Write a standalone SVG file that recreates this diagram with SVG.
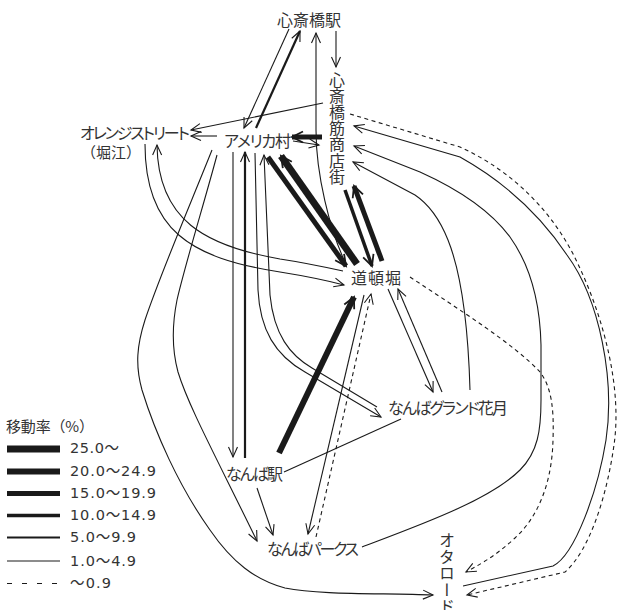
<svg xmlns="http://www.w3.org/2000/svg" width="617" height="610" viewBox="0 0 617 610">
  <style>
    .t{font-family:"Noto Sans CJK JP","Noto Sans CJK SC",sans-serif;font-size:16px;fill:#333;}
    .k{font-feature-settings:"palt" 1;}
    .v{writing-mode:vertical-rl;text-orientation:mixed;}
    .n{font-family:"DejaVu Sans","Noto Sans CJK JP",sans-serif;font-size:14.5px;fill:#333;}
    .c{fill:none;stroke:#1a1a1a;stroke-width:1.1;}
    .w5{stroke-width:2.2;}
    .w10{stroke-width:3.5;}
    .w15{stroke-width:5;}
    .w20{stroke-width:6;}
    .w25{stroke-width:7;}
    .d{stroke-dasharray:4 3.5;}
    .a{marker-end:url(#ah);}
    .b{marker-end:url(#ahb);}
  </style>
  <defs>
    <marker id="ah" viewBox="-12 -6 13 12" refX="0" refY="0" markerWidth="13" markerHeight="12" markerUnits="userSpaceOnUse" orient="auto" overflow="visible">
      <path d="M-10,-4.5 L0,0 L-10,4.5" fill="none" stroke="#1a1a1a" stroke-width="1.1"/>
    </marker>
    <marker id="ahb" viewBox="-13 -7 14 14" refX="0" refY="0" markerWidth="14" markerHeight="14" markerUnits="userSpaceOnUse" orient="auto" overflow="visible">
      <path d="M-11,-5.5 L0,0 L-11,5.5" fill="none" stroke="#1a1a1a" stroke-width="1.8"/>
    </marker>
  </defs>
  <rect width="617" height="610" fill="#fff"/>

  <!-- flows between places -->
  <g id="connectors">
    <!-- 心斎橋駅 links -->
    <path class="c a" d="M336,31 L336,67"/>
    <path class="c a" d="M289,29 L244,128"/>
    <path class="c w5 a" d="M256,128 L300,31"/>
    <path class="c a" d="M345,262 C330,230 316,175 316,130 L316,33"/>
    <!-- 心斎橋筋商店街 / アメリカ村 / オレンジストリート -->
    <path class="c a" d="M323,103 L191,130"/>
    <path class="c a" d="M217,136 L191,136"/>
    <path class="c w15 b" d="M322,137 L292,137"/>
    <path class="c a" d="M293,141 L319,145"/>
    <!-- アメリカ村 / 道頓堀 -->
    <path class="c w15 b" d="M268,157 L346,266"/>
    <path class="c w25 b" d="M357,264 L281,156"/>
    <!-- 心斎橋筋商店街 / 道頓堀 -->
    <path class="c w10 b" d="M345,190 L372,266"/>
    <path class="c w15 b" d="M382,261 L354,186"/>
    <!-- オレンジストリート / 道頓堀 -->
    <path class="c a" d="M145,144 C145,230 190,258 280,272 C305,276 325,280 344,285"/>
    <path class="c a" d="M343,271 C320,266 300,262 280,259 C205,246 158,220 157,145"/>
    <!-- アメリカ村 / なんば駅 -->
    <path class="c a" d="M233,152 L233,457"/>
    <path class="c w5 a" d="M245,458 L245,152"/>
    <!-- アメリカ村 / なんばグランド花月 -->
    <path class="c a" d="M255,153 L258,290 C260,330 275,355 305,372 L381,417"/>
    <path class="c a" d="M377,407 L312,368 C290,355 274,335 270,295 L264,155"/>
    <!-- 道頓堀 / なんばグランド花月 -->
    <path class="c a" d="M388,289 L433,392"/>
    <path class="c a" d="M442,392 L398,289"/>
    <!-- なんば駅 / 道頓堀 / なんばパークス -->
    <path class="c w20 b" d="M279,453 L354,297"/>
    <path class="c a" d="M364,295 L308,534"/>
    <path class="c d a" d="M316,537 L371,294"/>
    <path class="c" d="M284,472 L401,419"/>
    <path class="c a" d="M257,488 L273,535"/>
    <!-- アメリカ村 to the south -->
    <path class="c a" d="M217,155 C205,200 185,265 177,300 C172,325 172,350 178,372 C188,405 215,455 257,541"/>
    <path class="c a" d="M212,150 C190,205 160,275 145,320 C137,345 135,365 142,390 C155,432 178,485 210,530 C232,562 255,580 285,588 C320,595 380,593 433,595"/>
    <!-- eastern loops -->
    <path class="c a" d="M362,547 C420,525 490,500 520,470 C538,452 541,430 541,400 L541,345 C540,300 530,265 510,237 C490,210 460,190 420,172 L354,146"/>
    <path class="c a" d="M470,390 C468,320 460,270 448,240 C440,220 430,205 415,195 L353,162"/>
    <path class="c a" d="M463,586 L553,566 C575,555 598,490 606,440 C615,380 600,300 567,255 C545,222 510,185 460,157 L354,126"/>
    <path class="c d a" d="M350,114 L460,147 C515,172 555,215 577,262 C605,320 622,390 614,445 C607,495 590,550 565,572 L467,595"/>
    <path class="c d a" d="M410,277 C460,310 515,345 540,372 C552,388 554,410 553,440 C552,480 540,515 515,538 C500,552 485,562 466,572"/>
  </g>

  <g id="n-shinsaibashi-station">
    <text class="t" x="277" y="26" textLength="64" lengthAdjust="spacing">心斎橋駅</text>
  </g>
  <g id="n-shinsaibashisuji">
    <text class="t v" x="337" y="71.5" style="letter-spacing:0.2px">心斎橋筋商店街</text>
  </g>
  <g id="n-americamura">
    <text class="t k" x="224" y="147" textLength="67" lengthAdjust="spacing">アメリカ村</text>
  </g>
  <g id="n-orange-street">
    <text class="t k" x="80" y="139" textLength="110" lengthAdjust="spacing">オレンジストリート</text>
    <text class="t" x="111" y="158" text-anchor="middle" style="font-size:15px">（堀江）</text>
  </g>
  <g id="n-dotonbori">
    <text class="t" x="351" y="284" textLength="50" lengthAdjust="spacing">道頓堀</text>
  </g>
  <g id="n-ngk">
    <text class="t k" x="388" y="414" textLength="120" lengthAdjust="spacing">なんばグランド花月</text>
  </g>
  <g id="n-namba-station">
    <text class="t k" x="226" y="480" textLength="57" lengthAdjust="spacing">なんば駅</text>
  </g>
  <g id="n-namba-parks">
    <text class="t k" x="267" y="555" textLength="92" lengthAdjust="spacing">なんばパークス</text>
  </g>
  <g id="n-ota-road">
    <text class="t v" x="447" y="532" style="letter-spacing:0.5px">オタロード</text>
  </g>

  <g id="legend">
    <text class="t" x="6" y="432" style="font-size:15px" textLength="88" lengthAdjust="spacing">移動率（%）</text>
    <line class="c" x1="7" y1="449" x2="60" y2="449" style="stroke-width:7"/>
    <line class="c" x1="7" y1="471.5" x2="60" y2="471.5" style="stroke-width:6"/>
    <line class="c" x1="7" y1="493.5" x2="60" y2="493.5" style="stroke-width:5"/>
    <line class="c" x1="7" y1="515.5" x2="60" y2="515.5" style="stroke-width:3.5"/>
    <line class="c" x1="7" y1="537.5" x2="60" y2="537.5" style="stroke-width:2"/>
    <line class="c" x1="7" y1="561" x2="60" y2="561"/>
    <line class="c" x1="7" y1="583.5" x2="60" y2="583.5" style="stroke-dasharray:5 10"/>
    <text class="n" x="70" y="453" textLength="49" lengthAdjust="spacing">25.0～</text>
    <text class="n" x="70" y="476" textLength="86" lengthAdjust="spacing">20.0～24.9</text>
    <text class="n" x="70" y="498" textLength="86" lengthAdjust="spacing">15.0～19.9</text>
    <text class="n" x="70" y="520" textLength="86" lengthAdjust="spacing">10.0～14.9</text>
    <text class="n" x="70" y="542" textLength="66" lengthAdjust="spacing">5.0～9.9</text>
    <text class="n" x="70" y="566" textLength="66" lengthAdjust="spacing">1.0～4.9</text>
    <text class="n" x="70" y="588" textLength="41" lengthAdjust="spacing">～0.9</text>
  </g>
</svg>
